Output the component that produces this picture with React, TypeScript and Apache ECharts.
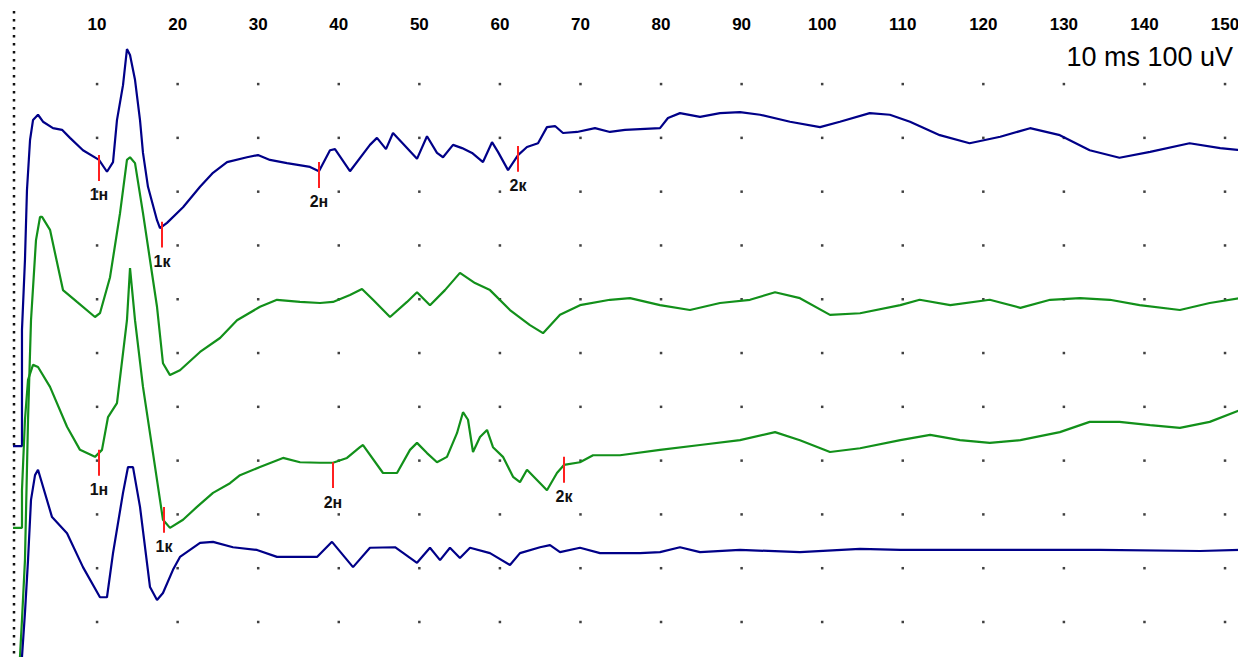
import React, { useEffect, useRef } from "react";
import * as echarts from "echarts";

// time ticks (ms) and grid rows (uV, 100 uV per division)
const timeTicks = [10, 20, 30, 40, 50, 60, 70, 80, 90, 100, 110, 120, 130, 140, 150];
const dotRows = [0, 100, 200, 300, 400, 500, 600, 700, 800, 900, 1000];

// trace 1 – blue (top)
const traceBlueTop: [number, number][] = [
  [-0.43, 327], [0.68, 327], [0.68, 543], [1.05, 673], [1.3, 803], [1.68, 896], [2.05, 933], [2.67, 943],
  [3.29, 930], [4.53, 918], [5.65, 915], [6.64, 900], [8.25, 877], [10.24, 859], [11.23, 837], [11.98, 855],
  [12.47, 933], [13.22, 998], [13.71, 1065], [14.09, 1054], [14.71, 1008], [15.33, 933], [15.7, 872],
  [16.32, 809], [17.44, 747], [17.81, 732], [18.68, 742], [20.67, 771], [22.78, 809], [24.39, 835],
  [26.13, 855], [28.61, 864], [29.97, 868], [31.46, 859], [33.57, 853], [36.43, 846], [37.54, 838],
  [38.91, 877], [39.53, 879], [41.39, 838], [43.87, 887], [44.74, 900], [45.86, 879], [46.73, 909],
  [48.47, 881], [49.71, 861], [50.95, 903], [52.19, 872], [52.94, 864], [54.18, 887], [55.3, 881],
  [56.54, 872], [57.9, 855], [59.02, 892], [59.76, 874], [61.01, 840], [62.25, 868], [63.36, 883],
  [64.73, 890], [65.84, 920], [66.84, 922], [67.83, 909], [69.57, 911], [71.8, 918], [73.66, 911],
  [75.53, 915], [79.87, 918], [80.86, 937], [82.35, 946], [84.84, 939], [87.32, 946], [89.8, 948],
  [92.29, 943], [96.01, 930], [99.73, 920], [102.2, 930], [105.9, 946], [108.4, 943], [110.9, 930],
  [114.6, 905], [118.3, 890], [122.1, 902], [125.8, 918], [129.5, 905], [133.2, 877], [136.9, 863],
  [140.7, 874], [145.6, 890], [149.4, 881], [151.9, 877],
];

// trace 2 – green (upper)
const traceGreenUpper: [number, number][] = [
  [0.43, -65], [0.68, 4], [1.05, 115], [1.43, 376], [1.8, 561], [2.42, 710], [2.92, 753], [3.17, 753],
  [4.16, 729], [5.77, 617], [7.51, 595], [9.74, 567], [10.36, 574], [11.61, 641], [12.85, 760],
  [13.71, 859], [14.09, 864], [14.71, 853], [15.7, 760], [16.57, 673], [17.44, 586], [18.18, 481],
  [19.05, 459], [20.29, 468], [22.78, 502], [25.26, 528], [27.37, 561], [30.22, 586], [32.33, 599],
  [35.19, 595], [37.67, 593], [39.28, 595], [41.39, 608], [42.88, 619], [44.25, 599], [46.36, 567],
  [48.47, 595], [49.71, 613], [51.32, 589], [53.18, 617], [55.04, 649], [56.91, 630], [58.77, 617],
  [61.25, 580], [63.73, 552], [65.35, 537], [67.46, 571], [69.94, 589], [73.66, 599], [76.15, 602],
  [79.87, 589], [83.59, 580], [87.32, 593], [91.04, 599], [94.15, 613], [97.24, 602], [100.97, 571],
  [104.7, 574], [109.7, 589], [112.1, 599], [115.9, 589], [120.8, 599], [124.6, 584], [128.3, 599],
  [132.0, 602], [135.7, 599], [139.4, 589], [144.4, 580], [148.1, 593], [151.9, 602],
];

// trace 3 – green (lower)
const traceGreenLower: [number, number][] = [
  [-0.43, 175], [0.68, 175], [0.68, 245], [1.05, 376], [1.43, 450], [2.05, 478], [2.67, 474],
  [4.16, 437], [6.27, 363], [7.88, 320], [9.74, 307], [10.61, 320], [11.36, 381], [12.47, 407],
  [13.22, 500], [13.71, 561], [14.09, 658], [14.71, 561], [15.7, 437], [16.94, 314], [17.81, 227],
  [18.18, 190], [19.05, 175], [20.67, 190], [22.4, 214], [24.39, 240], [26.5, 258], [27.74, 273],
  [30.22, 288], [33.08, 305], [35.19, 297], [37.67, 296], [39.28, 296], [41.02, 305], [42.63, 325],
  [43.01, 329], [45.49, 277], [47.23, 277], [48.84, 320], [49.71, 333], [50.95, 314], [52.19, 297],
  [53.43, 307], [54.67, 351], [55.42, 390], [56.04, 376], [56.66, 316], [57.53, 344], [58.4, 357],
  [59.14, 325], [60.38, 307], [61.63, 270], [62.49, 260], [63.36, 283], [64.6, 264], [65.84, 245],
  [67.08, 277], [67.95, 292], [69.94, 297], [71.56, 310], [74.91, 310], [79.87, 320], [84.84, 329],
  [89.8, 338], [94.15, 353], [97.24, 338], [100.97, 316], [104.7, 323], [109.7, 338], [113.4, 348],
  [117.1, 338], [120.8, 333], [124.6, 338], [129.5, 353], [133.2, 372], [136.9, 372], [140.7, 366],
  [144.4, 361], [148.1, 372], [151.9, 394],
];

// trace 4 – blue (bottom)
const traceBlueBottom: [number, number][] = [
  [0.68, -65], [1.05, 17], [1.43, 115], [1.8, 227], [2.3, 273], [2.67, 283], [4.41, 195], [6.27, 165],
  [8.25, 102], [10.36, 46], [11.23, 46], [11.98, 128], [13.22, 240], [13.84, 288], [14.46, 288],
  [15.33, 214], [16.57, 65], [17.44, 41], [18.18, 54], [19.42, 97], [20.29, 121], [22.78, 147],
  [24.39, 149], [26.87, 139], [29.85, 134], [32.33, 121], [37.3, 121], [39.16, 149], [41.77, 102],
  [43.87, 138], [46.98, 139], [49.71, 110], [51.32, 138], [52.57, 115], [53.8, 138], [55.04, 119],
  [56.29, 138], [58.77, 128], [61.25, 106], [62.49, 128], [64.98, 139], [66.22, 143], [67.46, 130],
  [69.94, 138], [72.43, 128], [77.39, 128], [79.87, 130], [82.35, 139], [84.84, 130], [89.8, 134],
  [97.24, 130], [104.7, 136], [109.7, 134], [122.1, 134], [134.5, 134], [146.9, 132], [151.9, 134],
];

// latency markers
const markerTrace = [0, 0, 0, 0, 2, 2, 2, 2];
const markerNames = ["1н", "1к", "2н", "2к", "1н", "1к", "2н", "2к"];
const markerTimes = [10.24, 18.06, 37.54, 62.25, 10.24, 18.31, 39.28, 67.95];
const markerTops = [868, 744, 855, 885, 320, 214, 297, 307];
const markerLength = 48;

const traces = [traceBlueTop, traceGreenUpper, traceGreenLower, traceBlueBottom];
const traceColors = ["#000088", "#12901a", "#12901a", "#000088"];

export default function App() {
  const ref = useRef<HTMLDivElement>(null);
  useEffect(() => {
    const chart = echarts.init(ref.current!, null, { renderer: "svg" });
    const dots: [number, number][] = [];
    timeTicks.forEach((t) => dotRows.forEach((r) => dots.push([t, r])));

    const lineSeries = traces.map((data, i) => {
      const marks = markerTrace
        .map((tr, k) => ({ tr, k }))
        .filter((m) => m.tr === i)
        .map(({ k }) => [
          { name: markerNames[k], coord: [markerTimes[k], markerTops[k]] },
          { coord: [markerTimes[k], markerTops[k] - markerLength] },
        ]);
      return {
        type: "line",
        data,
        showSymbol: false,
        symbol: "none",
        lineStyle: { color: traceColors[i], width: 2.2 },
        itemStyle: { color: traceColors[i] },
        z: 3,
        markLine: marks.length
          ? {
              silent: true,
              symbol: ["none", "none"],
              lineStyle: { color: "#ff2020", width: 2, type: "solid" },
              label: {
                show: true,
                position: "end",
                distance: 6,
                formatter: "{b}",
                color: "#111",
                fontSize: 16,
                fontWeight: "bold",
                fontFamily: "'Liberation Sans', Arial, sans-serif",
              },
              emphasis: { disabled: true },
              data: marks,
            }
          : undefined,
      };
    });

    chart.setOption({
      animation: false,
      backgroundColor: "#ffffff",
      grid: { left: 0, top: 0, width: 1238, height: 657 },
      xAxis: {
        type: "value",
        position: "top",
        min: -2.048,
        max: 151.61,
        axisLine: { show: false },
        axisTick: { show: false },
        splitLine: { show: false },
        axisLabel: {
          customValues: timeTicks,
          inside: true,
          margin: 16,
          color: "#000",
          fontSize: 17,
          fontWeight: "bold",
          fontFamily: "'Liberation Sans', Arial, sans-serif",
        },
      },
      yAxis: {
        type: "value",
        min: -65.07,
        max: 1156.3,
        show: false,
        splitLine: { show: false },
      },
      series: [
        {
          type: "scatter",
          data: dots,
          symbol: "rect",
          symbolSize: 2.5,
          itemStyle: { color: "#111" },
          silent: true,
          z: 1,
        },
        ...lineSeries,
      ],
      graphic: [
        {
          type: "line",
          shape: { x1: 14, y1: 11, x2: 14, y2: 657 },
          style: { stroke: "#111", lineWidth: 2.5, lineDash: [2.5, 5.5] },
          silent: true,
        },
        {
          type: "rect",
          shape: { x: 1238, y: 0, width: 10, height: 657 },
          style: { fill: "#fff" },
          silent: true,
          z: 100,
        },
        {
          type: "text",
          style: {
            text: "10 ms 100 uV",
            x: 1233,
            y: 57,
            align: "right",
            verticalAlign: "middle",
            fontSize: 27,
            fontFamily: "'Liberation Sans', Arial, sans-serif",
            fill: "#000",
          },
          silent: true,
          z: 101,
        },
      ],
    });
    return () => chart.dispose();
  }, []);
  return (
    <div
      ref={ref}
      style={{ position: "fixed", left: 0, top: 0, width: 1248, height: 657, background: "#fff" }}
    />
  );
}
